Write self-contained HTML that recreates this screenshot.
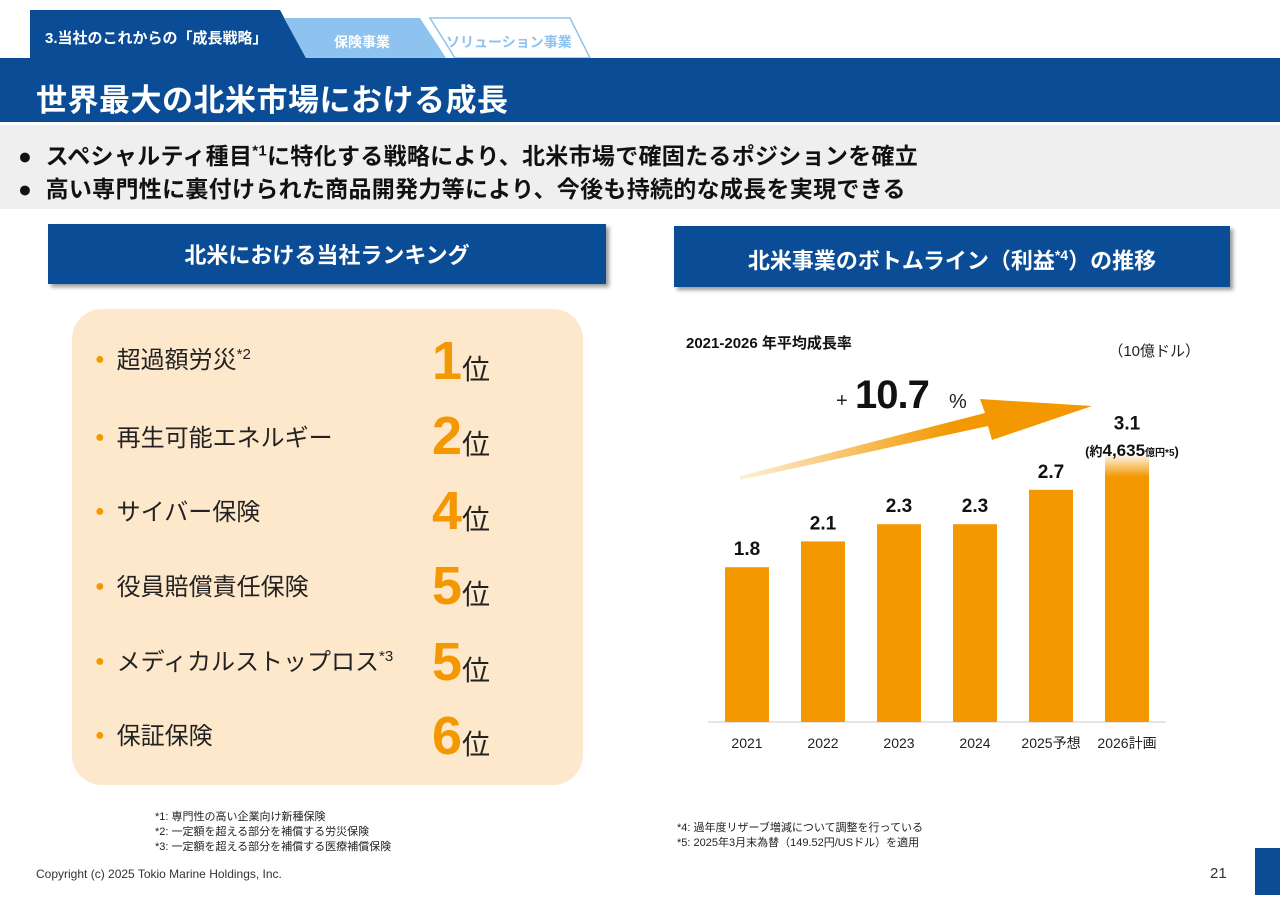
<!DOCTYPE html>
<html><head><meta charset="utf-8">
<style>
body{margin:0;width:1280px;height:904px;position:relative;background:#fff;font-family:"Liberation Sans","Noto Sans CJK JP",sans-serif;overflow:hidden}
.a{position:absolute}
.row{position:absolute;left:95px;font-size:24px;color:#222;}
.row .dot{color:#f39800;font-size:16px;margin-right:12px;vertical-align:4px}
.rk{position:absolute;left:432px;color:#f39800;font-weight:bold;font-size:54px;line-height:54px}
.rk span{color:#222;font-size:28px;font-weight:normal}
.note{font-size:11px;color:#222;line-height:15px}
</style></head><body>
<svg class="a" style="left:0;top:0" width="640" height="60">
<polygon points="30,10 280,10 306,58 30,58" fill="#0a4d96"/>
<polygon points="284,18 420,18 446,58 306,58" fill="#8ec3f0"/>
<polygon points="430,18 570,18 590,58 455,58" fill="#fff" stroke="#8ec3f0" stroke-width="1.5"/>
<text x="45" y="43" font-size="15" font-weight="bold" fill="#fff">3.当社のこれからの「成長戦略」</text>
<text x="334" y="47" font-size="14" font-weight="bold" fill="#fff">保険事業</text>
<text x="446" y="47" font-size="14" font-weight="bold" fill="#8ec3f0">ソリューション事業</text>
</svg>
<div class="a" style="left:0;top:58px;width:1280px;height:64px;background:#0a4d96"></div>
<div class="a" style="left:36px;top:75px;font-size:31px;font-weight:bold;color:#fff;letter-spacing:0.5px">世界最大の北米市場における成長</div>
<div class="a" style="left:0;top:125px;width:1280px;height:84px;background:#efefef"></div>
<div class="a" style="left:18px;top:137px;font-size:23px;font-weight:bold;color:#111;letter-spacing:0.3px">●&nbsp; スペシャルティ種目<sup style="font-size:15px">*1</sup>に特化する戦略により、北米市場で確固たるポジションを確立</div>
<div class="a" style="left:18px;top:170px;font-size:23px;font-weight:bold;color:#111;letter-spacing:0.3px">●&nbsp; 高い専門性に裏付けられた商品開発力等により、今後も持続的な成長を実現できる</div>

<div class="a" style="left:48px;top:224px;width:558px;height:60px;background:#0a4d96;box-shadow:3px 3px 4px #999;color:#fff;font-size:22px;font-weight:bold;text-align:center;line-height:64px">北米における当社ランキング</div>
<div class="a" style="left:674px;top:226px;width:556px;height:61px;background:#0a4d96;box-shadow:3px 3px 4px #999;color:#fff;font-size:22px;font-weight:bold;text-align:center;line-height:58px">北米事業のボトムライン（利益<sup style="font-size:14px">*4</sup>）の推移</div>

<div class="a" style="left:72px;top:309px;width:511px;height:476px;background:#fde8cb;border-radius:30px"></div>
<div class="row" style="top:340px"><span class="dot">●</span>超過額労災<sup style="font-size:15px">*2</sup></div>
<div class="rk" style="top:334px">1<span>位</span></div>
<div class="row" style="top:418px"><span class="dot">●</span>再生可能エネルギー</div>
<div class="rk" style="top:409px">2<span>位</span></div>
<div class="row" style="top:492px"><span class="dot">●</span>サイバー保険</div>
<div class="rk" style="top:484px">4<span>位</span></div>
<div class="row" style="top:567px"><span class="dot">●</span>役員賠償責任保険</div>
<div class="rk" style="top:559px">5<span>位</span></div>
<div class="row" style="top:642px"><span class="dot">●</span>メディカルストップロス<sup style="font-size:15px">*3</sup></div>
<div class="rk" style="top:635px">5<span>位</span></div>
<div class="row" style="top:716px"><span class="dot">●</span>保証保険</div>
<div class="rk" style="top:709px">6<span>位</span></div>

<svg id="chart" class="a" style="left:0;top:0" width="1280" height="904">
<defs>
<linearGradient id="arr" x1="0" y1="0" x2="1" y2="0"><stop offset="0" stop-color="#f39800" stop-opacity="0.15"/><stop offset="0.6" stop-color="#f39800"/></linearGradient>
<linearGradient id="fade" x1="0" y1="0" x2="0" y2="1"><stop offset="0" stop-color="#f39800" stop-opacity="0.1"/><stop offset="0.08" stop-color="#f39800"/></linearGradient>
</defs>
<text x="686" y="348" font-size="15" font-weight="bold" fill="#111">2021-2026 年平均成長率</text>
<text x="1200" y="356" font-size="15" fill="#222" text-anchor="end">（10億ドル）</text>
<polygon points="740,476 985,413 980,399 1092,406 992,440 988,426 740,480" fill="url(#arr)"/>
<text x="836" y="407" font-size="20" fill="#222">+</text>
<text x="855" y="408" font-size="40" font-weight="bold" fill="#111" letter-spacing="-1">10.7</text>
<text x="949" y="408" font-size="20" fill="#222">%</text>
<line x1="708" y1="722" x2="1166" y2="722" stroke="#ccc" stroke-width="1"/>
<g id="bars"></g>
<text x="1132" y="456" font-size="13" font-weight="bold" fill="#111" text-anchor="middle">(約<tspan font-size="17">4,635</tspan><tspan font-size="10">億円*5</tspan>)</text>
</svg>

<div class="a note" style="left:155px;top:810px">*1: 専門性の高い企業向け新種保険<br>*2: 一定額を超える部分を補償する労災保険<br>*3: 一定額を超える部分を補償する医療補償保険</div>
<div class="a note" style="left:677px;top:821px">*4: 過年度リザーブ増減について調整を行っている<br>*5: 2025年3月末為替（149.52円/USドル）を適用</div>
<div class="a" style="left:36px;top:867px;font-size:12px;color:#333">Copyright (c) 2025 Tokio Marine Holdings, Inc.</div>
<div class="a" style="left:1210px;top:865px;font-size:15px;color:#333">21</div>
<div class="a" style="left:1255px;top:848px;width:25px;height:47px;background:#0a4d96"></div>

<script>
const categories=["2021","2022","2023","2024","2025予想","2026計画"];
const values=[1.8,2.1,2.3,2.3,2.7,3.1];
const labels=["1.8","2.1","2.3","2.3","2.7","3.1"];
const NS="http://www.w3.org/2000/svg";
const g=document.getElementById('bars');
const base=722, scale=86, x0=747, step=76, bw=44;
const xPos=i=>x0+i*step;
const yPos=v=>base-v*scale;
categories.forEach((c,i)=>{
  const r=document.createElementNS(NS,'rect');
  
  
  r.setAttribute('x',xPos(i)-bw/2);r.setAttribute('y',yPos(values[i]));
  r.setAttribute('width',bw);r.setAttribute('height',base-yPos(values[i]));
  r.setAttribute('fill',i===categories.length-1?'url(#fade)':'#f39800');
  g.appendChild(r);
  const t=document.createElementNS(NS,'text');
  
  
  const ly=i===categories.length-1?yPos(values[i])-26:yPos(values[i])-12;
  t.setAttribute('x',xPos(i));t.setAttribute('y',ly);
  t.setAttribute('text-anchor','middle');t.setAttribute('font-size','19');t.setAttribute('font-weight','bold');t.setAttribute('fill','#111');
  t.textContent=labels[i];g.appendChild(t);
  const xl=document.createElementNS(NS,'text');
  
  
  xl.setAttribute('x',xPos(i));xl.setAttribute('y',748);
  xl.setAttribute('text-anchor','middle');xl.setAttribute('font-size','14');xl.setAttribute('fill','#222');
  xl.textContent=c;g.appendChild(xl);
});
</script>
</body></html>
